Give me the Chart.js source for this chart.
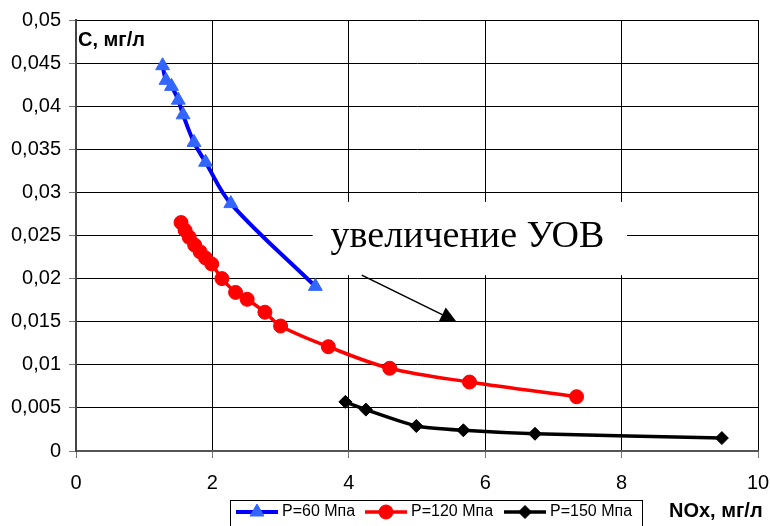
<!DOCTYPE html>
<html><head><meta charset="utf-8">
<script src="https://cdn.jsdelivr.net/npm/chart.js@4.4.0/dist/chart.umd.min.js"></script>
<style>html,body{margin:0;padding:0;background:#fff;overflow:hidden}canvas{display:block}</style>
</head><body>
<canvas id="c" width="770" height="526"></canvas>
<script>
// ---- data ----
const seriesNames = ['P=60 Мпа', 'P=120 Мпа', 'P=150 Мпа'];
const p60X = [1.27, 1.32, 1.40, 1.50, 1.57, 1.73, 1.90, 2.27, 3.51];
const p60Y = [0.0447, 0.0430, 0.0423, 0.0407, 0.0390, 0.0358, 0.0335, 0.0287, 0.0191];
const p120X = [1.54, 1.60, 1.66, 1.74, 1.82, 1.90, 1.99, 2.14, 2.34, 2.51, 2.77, 3.00, 3.70, 4.60, 5.77, 7.34];
const p120Y = [0.0265, 0.0256, 0.0248, 0.0239, 0.0231, 0.0224, 0.0217, 0.0200, 0.0184, 0.0176, 0.0161, 0.0145, 0.0121, 0.0096, 0.0080, 0.0063];
const p150X = [3.95, 4.25, 4.99, 5.68, 6.73, 9.47];
const p150Y = [0.0057, 0.0048, 0.0029, 0.0024, 0.0020, 0.0015];
const xTicks = [0, 2, 4, 6, 8, 10];
const xTickLabels = ['0', '2', '4', '6', '8', '10'];
const yTicks = [0, 0.005, 0.01, 0.015, 0.02, 0.025, 0.03, 0.035, 0.04, 0.045, 0.05];
const yTickLabels = ['0', '0,005', '0,01', '0,015', '0,02', '0,025', '0,03', '0,035', '0,04', '0,045', '0,05'];
const yTitle = 'C, мг/л';
const xTitle = 'NOx, мг/л';
const noteText = 'увеличение УОВ';

// ---- annotation placement (data units) ----
const noteBox = {x0: 3.47, x1: 8.08, y0: 0.0289, y1: 0.0204};
const notePos = {x: 5.74, y: 0.0237};
const arrow = {x0: 4.19, y0: 0.0204, x1: 5.58, y1: 0.0150};

const SANS = "Arial, 'Liberation Sans', sans-serif";
const SERIF = "'Times New Roman', 'Liberation Serif', serif";

function pts(xs, ys) { return xs.map((x, i) => ({x: x, y: ys[i]})); }

const styles = [
  {line: '#0000FF', mark: '#3366FF', ps: 'triangle', r: 8, bw: 4, t: 0.35},
  {line: '#FF0000', mark: '#FF0000', ps: 'circle', r: 7, bw: 3.5, t: 0.35},
  {line: '#000000', mark: '#000000', ps: 'rectRot', r: 6.5, bw: 3.5, t: 0.2}
];
const seriesData = [pts(p60X, p60Y), pts(p120X, p120Y), pts(p150X, p150Y)];

const datasets = seriesData.map((d, i) => ({
  label: seriesNames[i],
  data: d,
  borderColor: styles[i].line,
  borderWidth: styles[i].bw,
  backgroundColor: styles[i].mark,
  pointStyle: styles[i].ps,
  pointRadius: styles[i].r,
  pointBackgroundColor: styles[i].mark,
  pointBorderColor: styles[i].mark,
  pointBorderWidth: 1,
  tension: styles[i].t,
  fill: false
}));

const extras = {
  id: 'extras',
  afterDraw(chart) {
    const ctx = chart.ctx;
    const xs = chart.scales.x, ys = chart.scales.y;
    ctx.save();
    // axis titles
    ctx.fillStyle = '#000';
    ctx.font = 'bold 20px ' + SANS;
    ctx.textBaseline = 'middle';
    ctx.textAlign = 'left';
    ctx.fillText(yTitle, 78, 40);
    ctx.fillText(xTitle, 669, 511);

    // annotation box and text
    const bx0 = xs.getPixelForValue(noteBox.x0), bx1 = xs.getPixelForValue(noteBox.x1);
    const by0 = ys.getPixelForValue(noteBox.y0), by1 = ys.getPixelForValue(noteBox.y1);
    ctx.fillStyle = '#fff';
    ctx.fillRect(bx0, by0, bx1 - bx0, by1 - by0);
    ctx.fillStyle = '#000';
    ctx.font = '38px ' + SERIF;
    ctx.textAlign = 'center';
    ctx.textBaseline = 'alphabetic';
    ctx.fillText(noteText, xs.getPixelForValue(notePos.x), ys.getPixelForValue(notePos.y));

    // arrow
    const ax0 = xs.getPixelForValue(arrow.x0), ay0 = ys.getPixelForValue(arrow.y0);
    const ax1 = xs.getPixelForValue(arrow.x1), ay1 = ys.getPixelForValue(arrow.y1);
    const ang = Math.atan2(ay1 - ay0, ax1 - ax0);
    const hl = 16, hw = 8;
    const bxp = ax1 - Math.cos(ang) * hl, byp = ay1 - Math.sin(ang) * hl;
    ctx.strokeStyle = '#000';
    ctx.lineWidth = 1.6;
    ctx.beginPath();
    ctx.moveTo(ax0, ay0);
    ctx.lineTo(bxp, byp);
    ctx.stroke();
    ctx.beginPath();
    ctx.moveTo(ax1, ay1);
    ctx.lineTo(bxp + Math.sin(ang) * hw, byp - Math.cos(ang) * hw);
    ctx.lineTo(bxp - Math.sin(ang) * hw, byp + Math.cos(ang) * hw);
    ctx.closePath();
    ctx.fill();

    // legend
    ctx.strokeStyle = '#000';
    ctx.lineWidth = 1;
    ctx.strokeRect(230.5, 500.5, 412, 30);
    const starts = [236, 365, 504];
    const ly = 512;
    ctx.font = '16px ' + SANS;
    ctx.textAlign = 'left';
    ctx.textBaseline = 'middle';
    chart.data.datasets.forEach((ds, i) => {
      const sx = starts[i];
      ctx.strokeStyle = ds.borderColor;
      ctx.lineWidth = ds.borderWidth;
      ctx.beginPath();
      ctx.moveTo(sx, ly);
      ctx.lineTo(sx + 42, ly);
      ctx.stroke();
      ctx.fillStyle = ds.pointBackgroundColor;
      ctx.strokeStyle = ds.pointBorderColor;
      ctx.lineWidth = 1;
      Chart.helpers.drawPoint(ctx, {pointStyle: ds.pointStyle, radius: ds.pointRadius, rotation: 0, borderWidth: 1}, sx + 21, ly);
      ctx.fillStyle = '#000';
      ctx.fillText(ds.label, sx + 46, ly);
    });
    ctx.restore();
  }
};

new Chart(document.getElementById('c'), {
  type: 'line',
  data: {datasets: datasets},
  plugins: [extras],
  options: {
    responsive: false,
    animation: false,
    parsing: {xAxisKey: 'x', yAxisKey: 'y'},
    layout: {padding: {top: 20, right: 12, left: 0, bottom: 0}},
    plugins: {legend: {display: false}, tooltip: {enabled: false}},
    scales: {
      x: {
        type: 'linear', min: 0, max: 10,
        afterBuildTicks: s => { s.ticks = xTicks.map(v => ({value: v})); },
        afterFit: s => { s.height = 75; s.paddingLeft = 0; s.paddingRight = 0; },
        ticks: {callback: (v, i) => xTickLabels[i], color: '#000', font: {family: SANS, size: 20}, padding: 13, maxRotation: 0},
        grid: {color: '#000', lineWidth: 1, tickLength: 7, tickColor: '#777'},
        border: {color: '#555', width: 2}
      },
      y: {
        type: 'linear', min: 0, max: 0.05,
        afterBuildTicks: s => { s.ticks = yTicks.map(v => ({value: v})); },
        afterFit: s => { s.width = 76; s.paddingTop = 0; s.paddingBottom = 0; },
        ticks: {callback: (v, i) => yTickLabels[i], color: '#000', font: {family: SANS, size: 20}, padding: 8},
        grid: {color: '#000', lineWidth: 1, tickLength: 7, tickColor: '#777'},
        border: {color: '#444', width: 2}
      }
    }
  }
});
</script>
</body></html>
